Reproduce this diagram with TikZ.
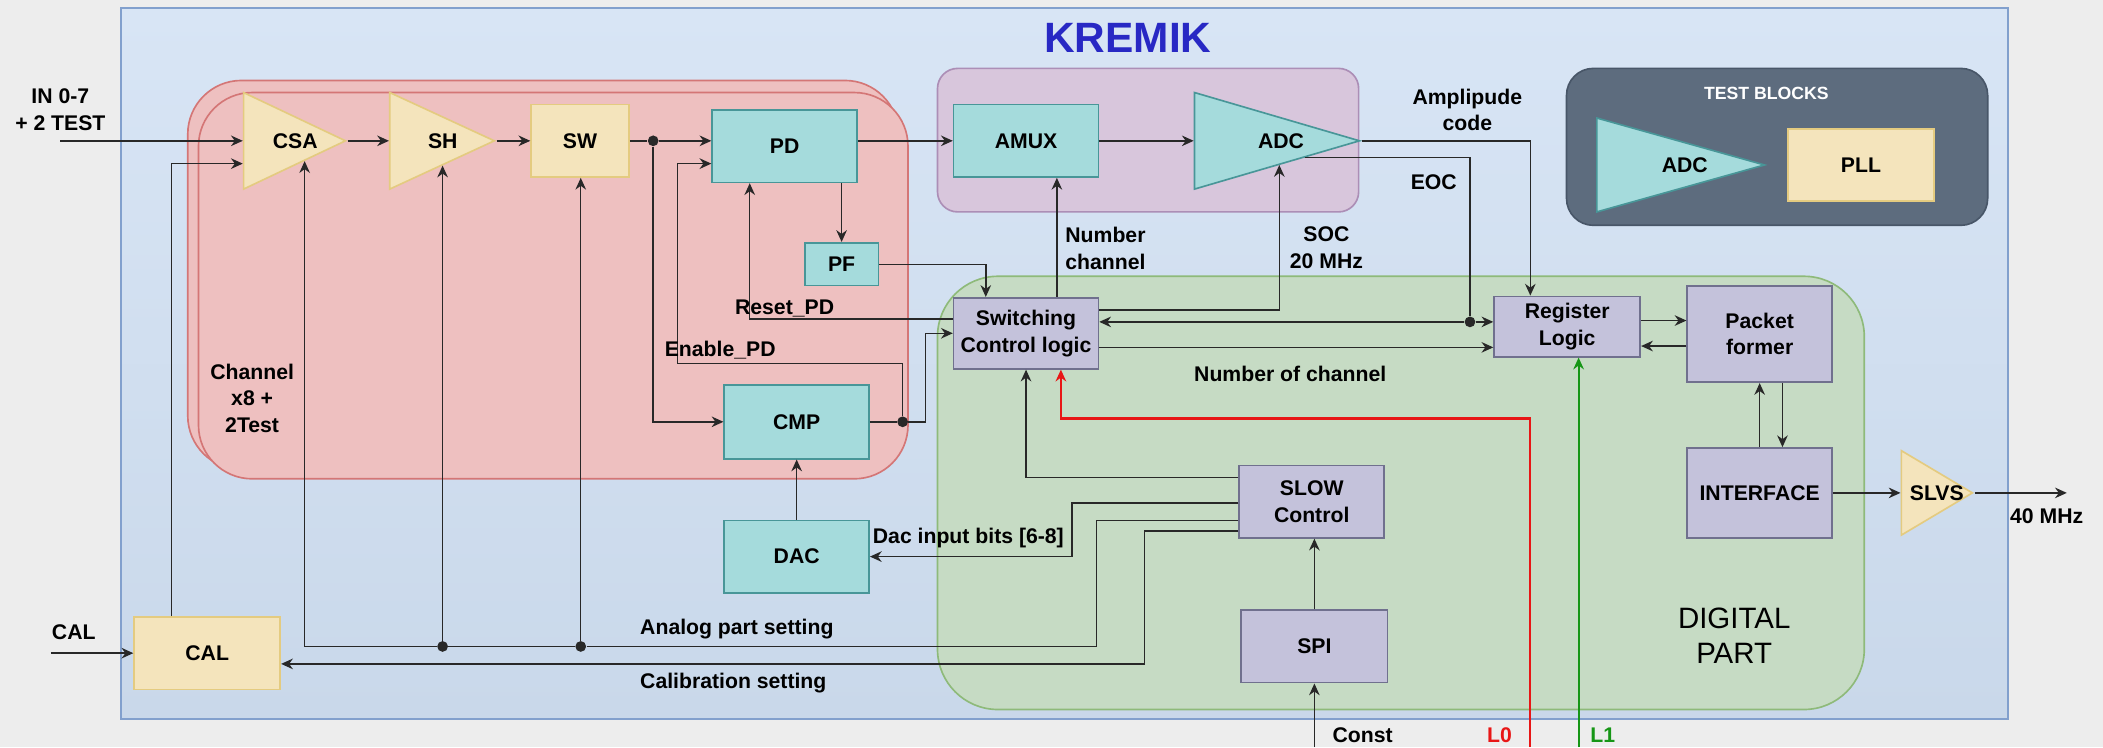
\documentclass[tikz,border=0pt]{standalone}
\usepackage{fontspec}
\setmainfont{Liberation Sans}
\usetikzlibrary{shapes.geometric,calc,arrows.meta}

\definecolor{pagebg}{RGB}{237,237,237}
\definecolor{chiptop}{RGB}{216,229,245}
\definecolor{chipbot}{RGB}{201,216,234}
\definecolor{chipline}{RGB}{130,160,205}
\definecolor{chanfill}{RGB}{238,192,192}
\definecolor{chanline}{RGB}{212,118,118}
\definecolor{muxfill}{RGB}{216,198,220}
\definecolor{muxline}{RGB}{172,142,182}
\definecolor{digifill}{RGB}{198,219,196}
\definecolor{digiline}{RGB}{142,186,122}
\definecolor{testfill}{RGB}{93,108,126}
\definecolor{testline}{RGB}{72,86,104}
\definecolor{tealfill}{RGB}{165,219,220}
\definecolor{tealline}{RGB}{72,150,152}
\definecolor{sandfill}{RGB}{244,228,188}
\definecolor{sandline}{RGB}{228,203,128}
\definecolor{lavfill}{RGB}{196,194,219}
\definecolor{lavline}{RGB}{112,112,142}
\definecolor{wirecol}{RGB}{40,40,40}
\definecolor{titleblue}{RGB}{40,40,196}
\definecolor{lzero}{RGB}{232,22,22}
\definecolor{lone}{RGB}{22,150,22}

\newcommand\lblfont{\fontsize{9pt}{11.4pt}\selectfont\bfseries}

\tikzset{
  blk/.style={draw, line width=0.7pt, inner sep=1pt, align=center, font=\lblfont},
  tealblk/.style={blk, fill=tealfill, draw=tealline},
  sandblk/.style={blk, fill=sandfill, draw=sandline},
  lavblk/.style={blk, fill=lavfill, draw=lavline},
  amp/.style={isosceles triangle, isosceles triangle stretches, shape border rotate=0,
    inner sep=0pt, draw, line width=0.7pt, anchor=lower side},
  wire/.style={line width=0.6pt, draw=wirecol},
  arr/.style={wire, -{Stealth[length=5pt,width=4.5pt]}},
  jdot/.style={circle, fill=wirecol, inner sep=0pt, minimum size=0.16cm},
  lbl/.style={font=\lblfont, align=center, inner sep=0pt, text=black},
  region/.style={line width=0.7pt},
}

\begin{document}
\begin{tikzpicture}[x=0.02cm,y=-0.02cm]
\useasboundingbox (0,0) rectangle (1568,557);

% Drawing background and chip outline
\fill[pagebg] (0,0) rectangle (1568,557);%
\draw[region, draw=chipline, top color=chiptop, bottom color=chipbot] (90,6) rectangle (1497,536);%

% Drawing channel regions (x8 + 2)
\draw[region, fill=chanfill, draw=chanline, rounded corners=0.8cm] (140,60) rectangle (670,350);%
\draw[region, fill=chanfill, draw=chanline, rounded corners=0.8cm] (148,69) rectangle (677,357);%

% Drawing mux region, digital region, test region
\draw[region, fill=muxfill, draw=muxline, rounded corners=0.3cm] (699,51) rectangle (1013,158);%
\draw[region, fill=digifill, draw=digiline, rounded corners=0.9cm] (699,206) rectangle (1390,529);%
\draw[region, fill=testfill, draw=testline, rounded corners=0.4cm] (1168,51) rectangle (1482,168);%

% Title
\node[font=\fontsize{18pt}{20pt}\selectfont\bfseries, text=titleblue] (title) at (841,28) {KREMIK};%

% Drawing analog chain
\node[amp, fill=sandfill, draw=sandline, minimum height=1.52cm, minimum width=1.44cm] (csa) at (181,105) {};%
\node[lbl] (csatxt) at ($(csa.lower side)!0.5!(csa.apex)$) {CSA};%
\node[amp, fill=sandfill, draw=sandline, minimum height=1.56cm, minimum width=1.44cm] (sh) at (290,105) {};%
\node[lbl] (shtxt) at ($(sh.lower side)!0.5!(sh.apex)$) {SH};%
\node[sandblk, minimum width=1.46cm, minimum height=1.08cm] (sw) at (432.5,105) {SW};%
\node[tealblk, minimum width=2.16cm, minimum height=1.08cm] (pd) at (585,109) {PD};%
\node[tealblk, minimum width=1.10cm, minimum height=0.64cm] (pf) at (627.5,197) {PF};%
\node[tealblk, minimum width=2.16cm, minimum height=1.10cm] (cmp) at (594,314.5) {CMP};%
\node[tealblk, minimum width=2.16cm, minimum height=1.08cm] (dac) at (594,415) {DAC};%
\node[sandblk, minimum width=2.18cm, minimum height=1.08cm] (cal) at (154.5,487) {CAL};%

% Drawing mux and converter
\node[tealblk, minimum width=2.16cm, minimum height=1.08cm] (amux) at (765,105) {AMUX};%
\node[amp, fill=tealfill, draw=tealline, minimum height=2.46cm, minimum width=1.44cm] (adc) at (890,105) {};%
\node[lbl] (adctxt) at ($(adc.lower side)!0.52!(adc.apex)$) {ADC};%

% Drawing digital part
\node[lavblk, minimum width=2.16cm, minimum height=1.06cm] (swc) at (765,248.5) {Switching\\Control logic};%
\node[lavblk, minimum width=2.18cm, minimum height=0.90cm] (reg) at (1168.5,243.5) {Register\\Logic};%
\node[lavblk, minimum width=2.16cm, minimum height=1.44cm] (pkt) at (1312,249) {Packet\\former};%
\node[lavblk, minimum width=2.16cm, minimum height=1.34cm] (intf) at (1312,367.5) {INTERFACE};%
\node[lavblk, minimum width=2.16cm, minimum height=1.08cm] (slow) at (978,374) {SLOW\\Control};%
\node[lavblk, minimum width=2.18cm, minimum height=1.08cm] (spi) at (980,482) {SPI};%
\node[amp, fill=sandfill, draw=sandline, minimum height=1.06cm, minimum width=1.26cm] (slvs) at (1417,367.5) {};%
\node[lbl] (slvstxt) at ($(slvs.lower side)!0.49!(slvs.apex)$) {SLVS};%

% Drawing test blocks
\node[lbl, text=white, font=\fontsize{7.5pt}{9pt}\selectfont\bfseries] (testlbl) at (1317,70) {TEST BLOCKS};%
\node[amp, fill=tealfill, draw=tealline, minimum height=2.50cm, minimum width=1.40cm] (tadc) at (1190,123) {};%
\node[lbl] (tadctxt) at ($(tadc.lower side)!0.52!(tadc.apex)$) {ADC};%
\node[sandblk, minimum width=2.18cm, minimum height=1.08cm] (pll) at (1387.5,123) {PLL};%

% Junction dots
\node[jdot] (d1) at (487,105) {};%
\node[jdot] (d2) at (673,314.5) {};%
\node[jdot] (d3) at (1096,240) {};%
\node[jdot] (d4) at (330,482) {};%
\node[jdot] (d5) at (433,482) {};%

% Free ends
\coordinate (sigin) at (45,105);%
\coordinate (calin) at (38,487);%
\coordinate (outclk) at (1541,367.5);%
\coordinate (cstin) at (980,557);%
\coordinate (lzin) at (1141,557);%
\coordinate (loin) at (1177,557);%

% Drawing signal path
\draw[arr] (sigin) -- (csa.lower side);%
\draw[arr] (csa.apex) -- (sh.lower side);%
\draw[arr] (sh.apex) -- (sw.west);%
\draw[wire] (sw.east) -- (d1);%
\draw[arr] (d1) -- (d1 -| pd.west);%
\draw[arr] (d1) |- (cmp.west);%
\draw[arr] (pd.south -| pf.north) -- (pf.north);%
\draw[arr] (pd.east |- amux.west) -- (amux.west);%
\draw[arr] (amux.east) -- (adc.lower side);%
\draw[wire] (cmp.east) -- (d2);%
\draw[arr] (dac.north) -- (cmp.south);%

% Drawing PD control lines
\draw[arr] (d2) |- (505,271) |- ($(pd.west)+(0,13)$);%
\draw[arr] ($(swc.west)+(0,-10.5)$) -| ($(pd.south)+(-26,0)$);%
\draw[arr] (pf.east) -| ($(swc.north)+(-30,0)$);%
\draw[arr] (d2) -- ++(17,0) |- (swc.west);%

% Drawing control to converter
\draw[arr] ($(swc.north)+(23,0)$) -- ($(amux.south)+(23,0)$);%
\draw[arr] ($(swc.east)+(0,-17.5)$) -| ($(adc.right corner)!0.51!(adc.apex)$);%
\draw[arr] (adc.apex) -| ($(reg.north)+(-27.5,0)$);%
\draw[wire] ($(adc.right corner)!0.66!(adc.apex)$) -| (d3);%
\draw[arr] (d3) -- (d3 -| reg.west);%
\draw[arr] (d3) -- (d3 -| swc.east);%
\draw[arr] ($(swc.east)+(0,10.5)$) coordinate (nch) -- (nch -| reg.west);%

% Drawing readout
\coordinate (rp1) at ($(pkt.west)+(0,-10)$);%
\coordinate (rp2) at ($(pkt.west)+(0,9)$);%
\draw[arr] (rp1 -| reg.east) -- (rp1);%
\draw[arr] (rp2) -- (rp2 -| reg.east);%
\draw[arr] (intf.north) -- (pkt.south);%
\draw[arr] ($(pkt.south)+(17,0)$) -- ($(intf.north)+(17,0)$);%
\draw[arr] (intf.east) -- (slvs.lower side);%
\draw[arr] (slvs.apex) -- (outclk);%

% Drawing trigger lines
\draw[arr, draw=lzero, line width=0.9pt] (lzin) -- ++(0,-245) -| ($(swc.south)+(26,0)$);%
\draw[arr, draw=lone, line width=0.9pt] (loin) -- (loin |- reg.south);%

% Drawing slow control lines
\draw[arr] (cstin) -- (cstin |- spi.south);%
\draw[arr] (spi.north) -- (spi.north |- slow.south);%
\draw[arr] ($(slow.west)+(0,-18)$) -| (swc.south);%
\draw[arr] ($(slow.west)+(0,1)$) -- ++(-124,0) |- (dac.east);%
\draw[wire] ($(slow.west)+(0,14)$) -- ++(-106,0) |- (d5);%
\draw[wire] (d5) -- (d4);%
\draw[arr] (d4) -| ($(csa.right corner)!0.59!(csa.apex)$);%
\draw[arr] (d4) -- (d4 |- sh.right side);%
\draw[arr] (d5) -- (d5 |- sw.south);%
\draw[arr] ($(slow.west)+(0,22)$) -- ++(-70,0) |- ($(cal.east)+(0,8)$);%
\draw[arr] ($(cal.north)+(-26.5,0)$) |- ($(csa.lower side)+(0,17)$);%
\draw[arr] (calin) -- (cal.west);%

% Labels
\node[lbl] (inlbl) at (45,82) {IN 0-7\\+ 2 TEST};%
\node[lbl] (calinlbl) at (55,471) {CAL};%
\node[lbl] (chanlbl) at (188,297) {Channel\\x8 +\\2Test};%
\node[lbl] (enlbl) at (537,261) {Enable\_PD};%
\node[lbl] (rstlbl) at (585,230) {Reset\_PD};%
\node[lbl, align=left, anchor=west] (nclbl) at (794,185) {Number\\channel};%
\node[lbl] (soclbl) at (989,185) {SOC\\20 MHz};%
\node[lbl] (amplbl) at (1094,82) {Amplipude\\code};%
\node[lbl] (eoclbl) at (1069,136) {EOC};%
\node[lbl] (nofclbl) at (962,279) {Number of channel};%
\node[lbl] (daclbl) at (722,401) {Dac input bits [6-8]};%
\node[lbl, anchor=west] (anlbl) at (477,469) {Analog part setting};%
\node[lbl, anchor=west] (calsetlbl) at (477,509) {Calibration setting};%
\node[lbl] (mhzlbl) at (1526,385) {40 MHz};%
\node[lbl] (cstlbl) at (1016,548) {Const};%
\node[lbl, text=lzero] (l0lbl) at (1118,548) {L0};%
\node[lbl, text=lone] (l1lbl) at (1195,548) {L1};%
\node[font=\fontsize{12.5pt}{14.8pt}\selectfont, align=center] (diglbl) at (1293,474) {DIGITAL\\PART};%
\end{tikzpicture}
\end{document}
